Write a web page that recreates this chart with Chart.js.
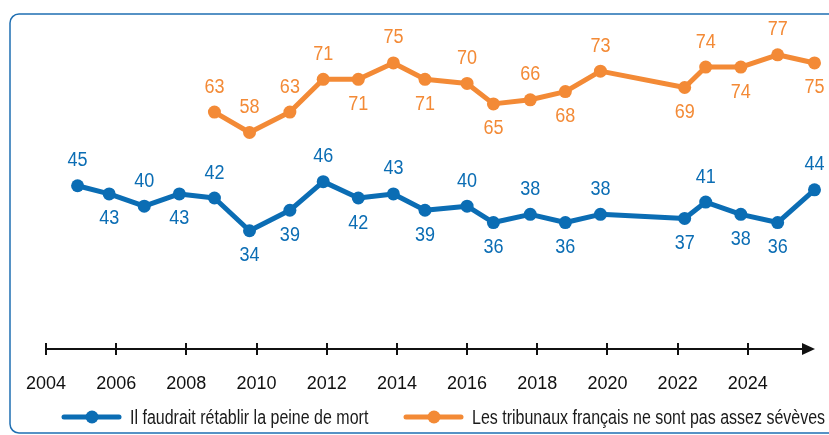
<!DOCTYPE html>
<html>
<head>
<meta charset="utf-8">
<script src="https://cdn.jsdelivr.net/npm/chart.js@4"></script>
<style>
  html, body { margin: 0; padding: 0; background: #fff; }
  #wrap { width: 829px; height: 435px; position: relative; }
</style>
</head>
<body>
<div id="wrap"><canvas id="c" width="829" height="435"></canvas></div>
<script>
// survey dates (decimal years)
const years = [2004.9, 2005.8, 2006.8, 2007.8, 2008.8, 2009.8, 2010.95, 2011.9, 2012.9, 2013.9, 2014.8,
               2016.0, 2016.75, 2017.8, 2018.8, 2019.8, 2022.2, 2022.8, 2023.8, 2024.85, 2025.9];
const peineDeMort = [45, 43, 40, 43, 42, 34, 39, 46, 42, 43, 39, 40, 36, 38, 36, 38, 37, 41, 38, 36, 44];
const tribunaux = [null, null, null, null, 63, 58, 63, 71, 71, 75, 71, 70, 65, 66, 68, 73, 69, 74, 74, 77, 75];
const seriesNames = ["Il faudrait rétablir la peine de mort", "Les tribunaux français ne sont pas assez sévèves"];
const tickYears = [2004, 2006, 2008, 2010, 2012, 2014, 2016, 2018, 2020, 2022, 2024];

// where each value label sits: 1 = above the point, -1 = below
const blueSide = [1, -1, 1, -1, 1, -1, -1, 1, -1, 1, -1, 1, -1, 1, -1, 1, -1, 1, -1, -1, 1];
const orangeSide = [0, 0, 0, 0, 1, 1, 1, 1, -1, 1, -1, 1, -1, 1, -1, 1, -1, 1, -1, 1, -1];

const BLUE = '#0b6db4';
const ORANGE = '#f38a36';
const FONT = '"Liberation Sans", Arial, sans-serif';

function pts(vals) {
  return years.map((x, i) => ({ x: x, y: vals[i] })).filter(p => p.y !== null);
}

// narrow text: the original uses a condensed face
function narrowText(ctx, txt, x, y, sx) {
  ctx.save();
  ctx.translate(x, y);
  ctx.scale(sx, 1);
  ctx.fillText(txt, 0, 0);
  ctx.restore();
}

const decor = {
  id: 'decor',
  beforeDraw(chart) {
    const ctx = chart.ctx;
    ctx.save();
    ctx.strokeStyle = '#1f6fb2';
    ctx.lineWidth = 1.5;
    ctx.beginPath();
    ctx.roundRect(10, 14, 840, 419, 9);
    ctx.stroke();

    // x axis with arrow
    const xs = chart.scales.x;
    const y0 = Math.round(chart.chartArea.bottom);
    ctx.strokeStyle = '#111';
    ctx.fillStyle = '#111';
    ctx.lineWidth = 2;
    ctx.beginPath();
    ctx.moveTo(xs.getPixelForValue(2004), y0);
    ctx.lineTo(805, y0);
    ctx.stroke();
    tickYears.forEach(t => {
      const px = Math.round(xs.getPixelForValue(t));
      ctx.beginPath();
      ctx.moveTo(px, y0 - 6);
      ctx.lineTo(px, y0 + 6);
      ctx.stroke();
    });
    ctx.beginPath();
    ctx.moveTo(815, y0);
    ctx.lineTo(802, y0 - 6);
    ctx.lineTo(802, y0 + 6);
    ctx.closePath();
    ctx.fill();
    ctx.restore();
  },
  afterDatasetsDraw(chart) {
    const ctx = chart.ctx;
    ctx.save();
    ctx.font = '20px ' + FONT;
    ctx.textAlign = 'center';
    ctx.textBaseline = 'middle';
    const sides = [blueSide, orangeSide.filter((s, i) => tribunaux[i] !== null)];
    chart.data.datasets.forEach((ds, di) => {
      const meta = chart.getDatasetMeta(di);
      ctx.fillStyle = ds.borderColor;
      meta.data.forEach((el, i) => {
        const v = ds.data[i].y;
        narrowText(ctx, String(v), el.x, el.y - sides[di][i] * 25, 0.9);
      });
    });

    // legend
    const ly = 417;
    const items = [{ x: 64, c: BLUE, t: seriesNames[0] }, { x: 406, c: ORANGE, t: seriesNames[1] }];
    ctx.font = '20px ' + FONT;
    ctx.textAlign = 'left';
    items.forEach(it => {
      ctx.strokeStyle = it.c;
      ctx.fillStyle = it.c;
      ctx.lineWidth = 5;
      ctx.lineCap = 'round';
      ctx.beginPath();
      ctx.moveTo(it.x, ly);
      ctx.lineTo(it.x + 55, ly);
      ctx.stroke();
      ctx.beginPath();
      ctx.arc(it.x + 28, ly, 6.5, 0, Math.PI * 2);
      ctx.fill();
      ctx.fillStyle = '#1a1a1a';
      narrowText(ctx, it.t, it.x + 66, ly + 1, 0.8);
    });
    ctx.restore();
  }
};

new Chart(document.getElementById('c'), {
  type: 'line',
  data: {
    datasets: [
      { label: seriesNames[0], data: pts(peineDeMort), borderColor: BLUE, backgroundColor: BLUE },
      { label: seriesNames[1], data: pts(tribunaux), borderColor: ORANGE, backgroundColor: ORANGE }
    ]
  },
  options: {
    responsive: false,
    animation: false,
    layout: { padding: { left: 46, right: 11, top: 20, bottom: 16 } },
    elements: {
      line: { borderWidth: 5, tension: 0, borderJoinStyle: 'round' },
      point: { radius: 6.5, borderWidth: 0, hoverRadius: 6.5 }
    },
    clip: false,
    plugins: { legend: { display: false }, tooltip: { enabled: false } },
    scales: {
      x: {
        type: 'linear',
        min: 2004,
        max: 2026,
        afterBuildTicks: s => { s.ticks = tickYears.map(v => ({ value: v })); },
        grid: { display: false, drawTicks: false },
        border: { display: false },
        ticks: {
          padding: 24,
          color: '#111',
          font: { family: FONT, size: 18 },
          maxRotation: 0,
          autoSkip: false,
          callback: v => String(v)
        }
      },
      y: {
        display: false,
        min: 5,
        max: 85.5
      }
    }
  },
  plugins: [decor]
});
</script>
</body>
</html>
